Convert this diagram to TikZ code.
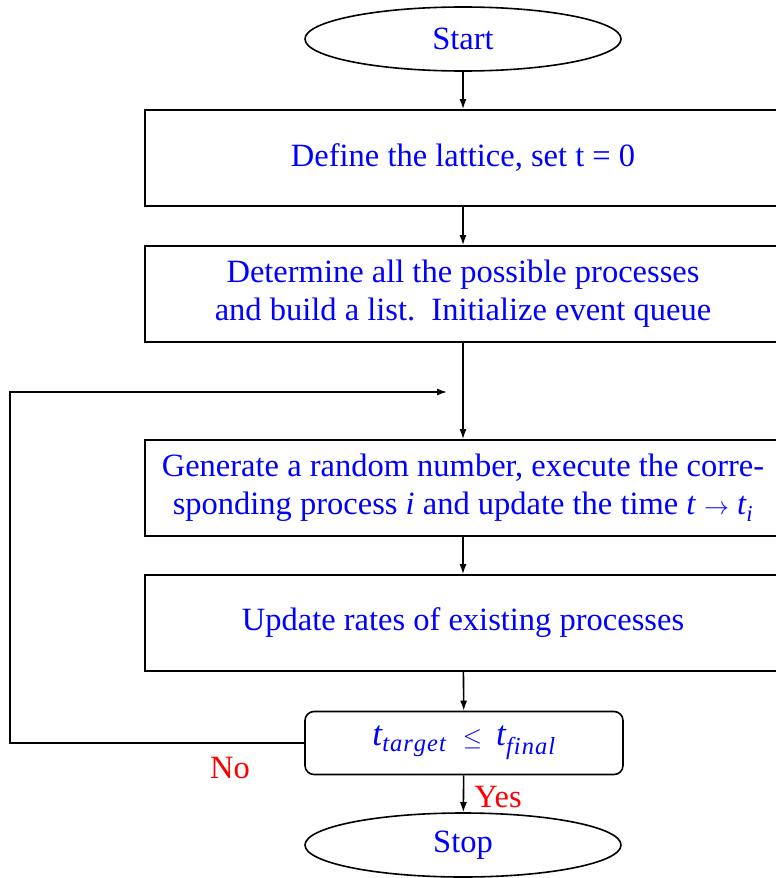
\documentclass[tikz,border=0pt]{standalone}
\usepackage{fontspec}
\setmainfont{Liberation Serif}
\usetikzlibrary{shapes.geometric,arrows.meta}
% italic variable with optional italic subscript, set in the text font
\newcommand{\vr}[1]{\textit{#1}}
\newcommand{\vrsub}[2]{\textit{#1}\textsubscript{\kern-0.5pt\textit{#2}}}
\begin{document}
\begin{tikzpicture}[x=1pt,y=-1pt,
  every node/.style={font=\fontsize{32.5}{38}\selectfont, text=blue},
  proc/.style={draw=black, line width=1.6pt, minimum width=636pt, minimum height=96pt, inner sep=0pt, align=center},
  term/.style={ellipse, draw=black, line width=1.6pt, minimum width=316pt, minimum height=64pt, inner sep=0pt},
  decision/.style={draw=black, rounded corners=9pt, line width=1.6pt, minimum width=318pt, minimum height=63pt, inner sep=0pt},
  flow/.style={line width=1.6pt, -{Latex[length=10pt,width=7pt]}},
  answer/.style={text=red}]
  \useasboundingbox (0,0) rectangle (776,878);

  \node[term] (start) at (463,39) {Start};
  \node[proc] (lat) at (463,158) {Define the lattice, set t = 0};
  \node[proc] (list) at (463,294) {Determine all the possible processes\\and build a list.\ \ Initialize event queue};
  \node[proc] (gen) at (463,488) {Generate a random number, execute the corre-\\sponding process \vr{i} and update the time \vr{t} $\rightarrow$ \vrsub{t}{i}};
  \node[proc] (rates) at (463,623) {Update rates of existing processes};
  \node[decision, font=\fontsize{35}{40}\selectfont] (dec) at (464,743)
    {\vrsub{t}{t\kern1pt a\kern1pt r\kern1pt g\kern1pt e\kern1pt t}\hspace{16pt}$\leq$\hspace{14pt}\vrsub{t}{f\kern1pt i\kern1pt n\kern1pt a\kern1pt l}};
  \node[term] (stop) at (463,845) {Stop};

  \draw[flow] (start) -- (lat);
  \draw[flow] (lat) -- (list);
  \draw[flow] (list) -- (gen);
  \draw[flow] (gen) -- (rates);
  \draw[flow] (rates) -- (dec);
  \draw[flow] (dec) -- (stop);

  % "No" branch loops back above the generation step
  \coordinate (corner) at (10,743);
  \coordinate (back) at (447,392);
  \draw[flow] (dec.west) -- (corner) |- (back);

  \node[answer] (no) at (230,768) {No};
  \node[answer] (yes) at (498,797) {Yes};
\end{tikzpicture}
\end{document}
